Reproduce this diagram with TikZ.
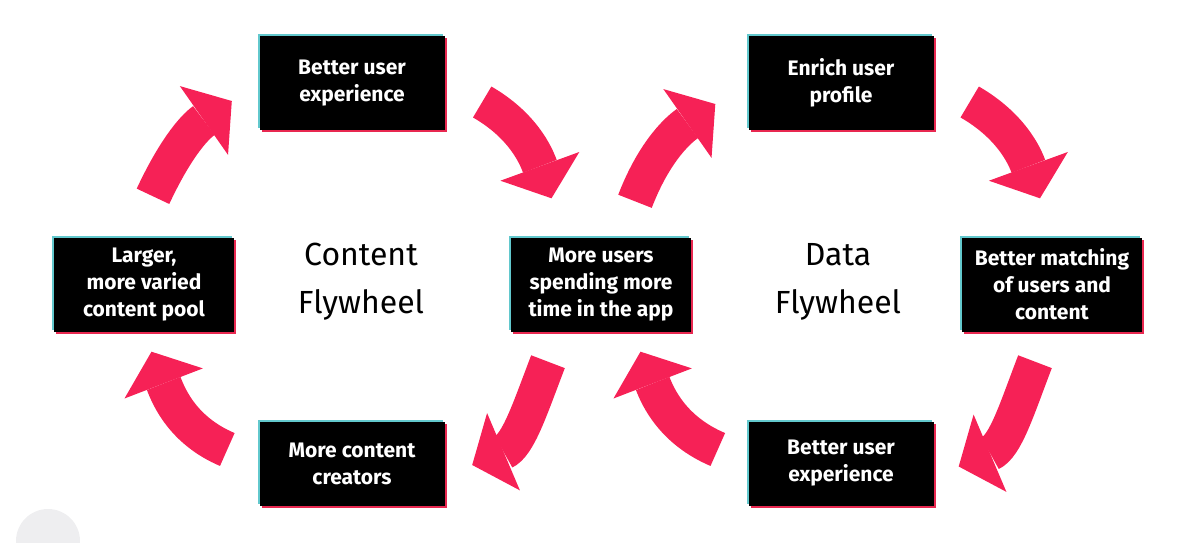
\documentclass[tikz,border=0pt]{standalone}
\usepackage{fontspec}
\setmainfont{Fira Sans}
\usetikzlibrary{arrows.meta,shadows}

\definecolor{flyred}{RGB}{246,33,86}
\definecolor{edgecyan}{RGB}{98,200,205}
\definecolor{edgepink}{RGB}{232,40,80}
\definecolor{blobgrey}{RGB}{238,238,240}

\begin{document}
\begin{tikzpicture}[
  x=1pt, y=1pt,
  card/.style={fill=black, text=white, align=center, minimum width=185pt, minimum height=94pt,
    inner sep=4pt, font=\fontsize{21}{27}\selectfont\bfseries,
    general shadow={fill=edgecyan, shadow xshift=-2pt, shadow yshift=2pt},
    general shadow={fill=edgepink, shadow xshift=2pt, shadow yshift=-2pt}},
  narrow/.style={minimum width=180pt},
  low/.style={minimum height=84pt},
  wheel/.style={align=center, font=\fontsize{32}{48}\selectfont},
  flow/.style={draw=flyred, line width=36pt, -{Triangle[width=84pt, length=34pt, line width=0pt]}}
]
\useasboundingbox (0,0) rectangle (1192,542);
\begin{scope}
  \clip (0,0) rectangle (1192,542);
  \fill[blobgrey] (48,1) circle (32);
\end{scope}

\node[card] (betterux) at (352,459) {Better user\\experience};
\node[card] (enrich) at (841,459) {Enrich user\\profile};
\node[card, narrow] (pool) at (144,257.5) {Larger,\\more varied\\content pool};
\node[card, narrow] (users) at (601,257.5) {More users\\spending more\\time in the app};
\node[card, narrow] (match) at (1052,257.5) {Better matching\\of users and\\content};
\node[card, low] (creators) at (352,78.5) {More content\\creators};
\node[card, low] (betterux2) at (841,78.5) {Better user\\experience};
\node[wheel] (content) at (361,260) {Content\\Flywheel};
\node[wheel] (data) at (838,260) {Data\\Flywheel};

\draw[flow] ([shift={(9,41)}]pool.north) to[out=65,in=-145] ([shift={(-27.5,-18)}]betterux.west);
\draw[flow] ([shift={(37.5,-19)}]betterux.east) to[out=-30,in=110] ([shift={(-49.5,39)}]users.north);
\draw[flow] ([shift={(34,36)}]users.north) to[out=69,in=-145] ([shift={(-33,-21)}]enrich.west);
\draw[flow] ([shift={(36,-19)}]enrich.east) to[out=-30,in=110] ([shift={(-12,39)}]match.north);
\draw[flow] ([shift={(-17,-30)}]match.south) to[out=-111,in=23] ([shift={(25,-3)}]betterux2.east);
\draw[flow] ([shift={(-30.5,14)}]betterux2.west) to[out=157,in=-69] ([shift={(39.5,-20)}]users.south);
\draw[flow] ([shift={(-53,-30)}]users.south) to[out=-111,in=23] ([shift={(27.5,-1.5)}]creators.east);
\draw[flow] ([shift={(-32,14)}]creators.west) to[out=157,in=-69] ([shift={(7.5,-20)}]pool.south);
\end{tikzpicture}
\end{document}
